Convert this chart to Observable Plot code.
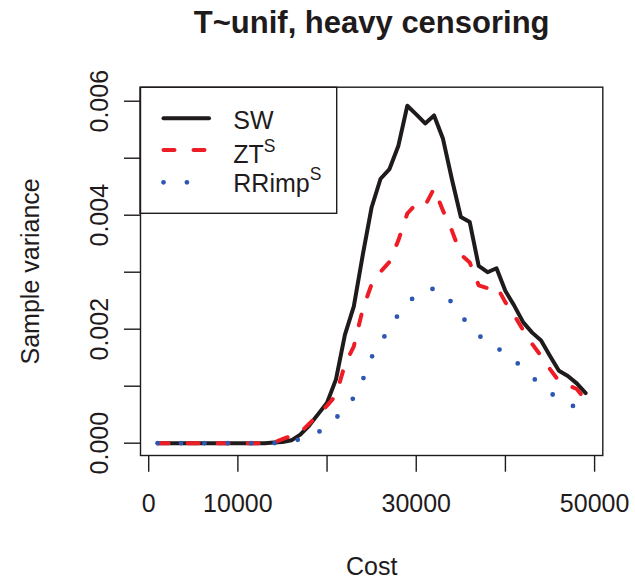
<!DOCTYPE html>
<html><head><meta charset="utf-8">
<script src="https://cdn.jsdelivr.net/npm/d3@7"></script>
<script src="https://cdn.jsdelivr.net/npm/@observablehq/plot@0.6"></script>
<style>
html,body{margin:0;padding:0;background:#fff}
</style>
</head><body><div id="chart"></div>
<script>
const title = "T~unif, heavy censoring";
const xLabel = "Cost";
const yLabel = "Sample variance";

const cost = [1000,2000,3000,4000,5000,6000,7000,8000,9000,10000,
  11000,12000,13000,14000,15000,16000,17000,18000,19000,20000,
  21000,22000,23000,24000,25000,26000,27000,28000,29000,30000,
  31000,32000,33000,34000,35000,36000,37000,38000,39000,40000,
  41000,42000,43000,44000,45000,46000,47000,48000,49000];

const sw = [0,0,0,0,0,0,0,0,0,0,
  0,0,0,0.00001,0.00002,0.00005,0.00015,0.00031,0.00051,0.00071,
  0.00112,0.00190,0.00240,0.00330,0.00414,0.00464,0.00481,0.00522,0.00592,0.00577,
  0.00561,0.00575,0.00534,0.00463,0.00397,0.00388,0.00311,0.00300,0.00307,0.00267,
  0.00241,0.00212,0.00194,0.00180,0.00153,0.00127,0.00118,0.00105,0.00088];

const zt = [0,0,0,0,0,0,0,0,0,0,
  0,0,0,0.00001,0.00007,0.00013,0.00019,0.00034,0.00050,0.00066,
  0.00084,0.00138,0.00170,0.00235,0.00279,0.00301,0.00318,0.00356,0.00403,0.00420,
  0.00417,0.00447,0.00408,0.00373,0.00331,0.00317,0.00277,0.00272,0.00276,0.00247,
  0.00224,0.00198,0.00174,0.00153,0.00130,0.00109,0.00102,0.00095,0.00076];

const rr = [0,0,0,0,0,0,0,0,0,0,
  0,0,0,0,0.00001,0.00003,0.00007,0.00013,0.00019,0.00030,
  0.00044,0.00061,0.00080,0.00111,0.00151,0.00177,0.00201,0.00226,0.00245,0.00260,
  0.00269,0.00271,0.00267,0.00246,0.00222,0.00209,0.00190,0.00174,0.00166,0.00161,
  0.00146,0.00130,0.00116,0.00102,0.00089,0.00077,0.00070,0.00062,0.00056];

const seriesNames = ["SW", "ZT", "RRimp"];
const seriesSup = ["", "S", "S"];
const seriesValues = [sw, zt, rr];

const xTicks = [0, 10000, 20000, 30000, 40000, 50000];
const xTickLabels = ["0", "10000", "", "30000", "", "50000"];
const yTicks = [0, 0.001, 0.002, 0.003, 0.004, 0.005, 0.006];
const yTickLabels = ["0.000", "", "0.002", "", "0.004", "", "0.006"];

// styles (kept separate from data)
const seriesColor = ["#1f1b1c", "#ee1d25", "#2c57b2"];
const seriesWidth = [4, 4, 4.8];
const seriesDash = [null, "11,19", "0,23.4"];

const tables = seriesValues.map(vals => cost.map((c, i) => ({cost: c, v: vals[i]})));

function legend(index, scales, values, dims) {
  const L = dims.marginLeft, T = dims.marginTop;
  const g = d3.create("svg:g").attr("text-anchor", "start");
  g.append("rect")
    .attr("x", L).attr("y", T + 0.6)
    .attr("width", 196.7).attr("height", 126)
    .attr("fill", "none").attr("stroke", "#1f1b1c").attr("stroke-width", 1.4);
  const rowY = [31.6, 63.3, 95.6];
  const baseY = [41.8, 76.6, 105.0];
  const segEnd = [69, 69, 60];
  seriesNames.forEach((name, i) => {
    const y = T + rowY[i];
    g.append("line")
      .attr("x1", L + 23.5).attr("x2", L + segEnd[i])
      .attr("y1", y).attr("y2", y)
      .attr("stroke", seriesColor[i]).attr("stroke-width", seriesWidth[i])
      .attr("stroke-linecap", "round")
      .attr("stroke-dasharray", seriesDash[i]);
    const t = g.append("text")
      .attr("x", L + 93.3).attr("y", T + baseY[i])
      .attr("text-anchor", "start")
      .attr("font-size", 25).attr("fill", "#1f1b1c");
    t.append("tspan").text(name);
    if (seriesSup[i]) t.append("tspan").attr("dy", -11.6).attr("font-size", 17.5).text(seriesSup[i]);
  });
  return g.node();
}

const chart = Plot.plot({
  width: 635,
  height: 581,
  marginLeft: 140,
  marginRight: 32.7,
  marginTop: 86.7,
  marginBottom: 126,
  style: {fontFamily: "'Liberation Sans', Arial, sans-serif", fontSize: "25px", color: "#1f1b1c", background: "#fff", overflow: "visible"},
  x: {domain: [-920, 50920]},
  y: {domain: [-0.000216, 0.006246]},
  marks: [
    Plot.frame({stroke: "#1f1b1c", strokeWidth: 1.4}),
    Plot.axisX(xTicks, {tickSize: 16.7, tickPadding: 22, strokeWidth: 1.4, fontSize: 25, label: null,
      tickFormat: d => xTickLabels[xTicks.indexOf(d)]}),
    Plot.axisY(yTicks, {tickSize: 16, strokeWidth: 1.4, label: null, tickFormat: () => ""}),
    Plot.text(yTicks, {y: d => d, text: d => yTickLabels[yTicks.indexOf(d)], frameAnchor: "left",
      dx: -33, rotate: -90, textAnchor: "middle", lineAnchor: "bottom", fontSize: 25, fill: "#1f1b1c"}),
    ...tables.map((tab, i) => Plot.line(tab, {x: "cost", y: "v", stroke: seriesColor[i],
      strokeWidth: seriesWidth[i], strokeDasharray: seriesDash[i], strokeLinecap: "round", strokeLinejoin: "round"})),
    Plot.text([title], {frameAnchor: "top", dy: -54.4, lineAnchor: "bottom", fontSize: 31, fontWeight: "bold", fill: "#1f1b1c"}),
    Plot.text([xLabel], {frameAnchor: "bottom", dy: 119, lineAnchor: "bottom", fontSize: 25, fill: "#1f1b1c"}),
    Plot.text([yLabel], {frameAnchor: "left", dx: -102, rotate: -90, textAnchor: "middle", lineAnchor: "bottom", fontSize: 25, fill: "#1f1b1c"}),
    legend
  ]
});
document.getElementById("chart").appendChild(chart);
</script>
</body></html>
